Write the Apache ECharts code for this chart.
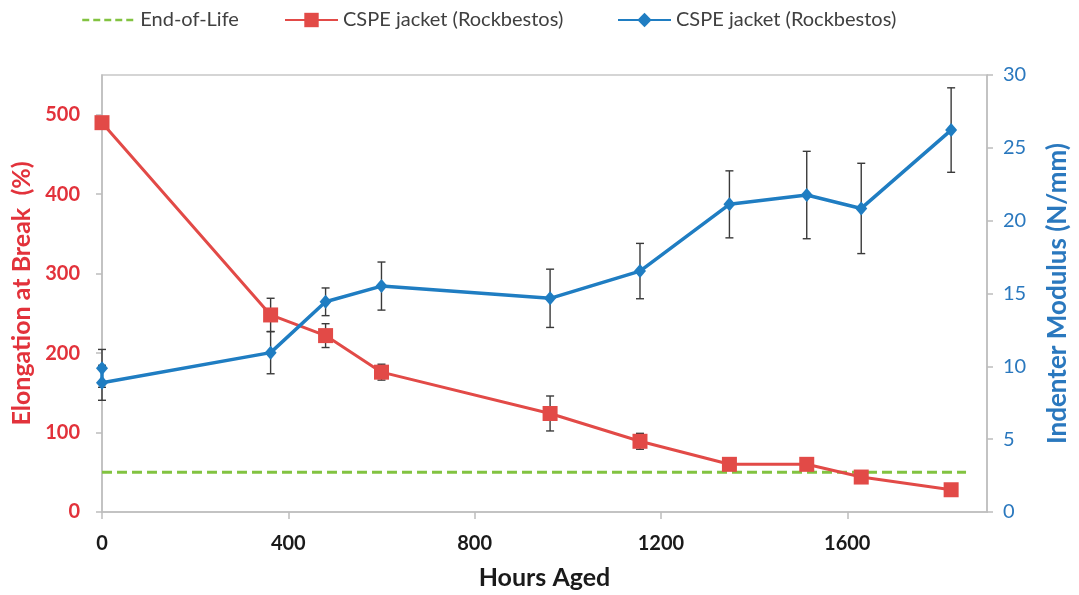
<!DOCTYPE html>
<html>
<head>
<meta charset="utf-8">
<script src="https://cdn.jsdelivr.net/npm/echarts@6/dist/echarts.min.js"></script>
<style>
  html, body { margin: 0; padding: 0; background: #fff; }
  #chart { width: 1079px; height: 595px; }
</style>
</head>
<body>
<div id="chart"></div>
<script>
// Hours of ageing for each measurement
var hoursRed = [0, 362, 480, 600, 962, 1155, 1347, 1513, 1630, 1823];
var elongation = [490, 248, 222, 176, 124, 89, 60, 60, 44, 28];
var elongationErr = [3, 21, 15, 10, 22, 10, 0, 0, 0, 0];

var hoursBlue = [0, 0, 362, 480, 600, 962, 1155, 1347, 1513, 1630, 1823];
var modulus = [9.86, 8.87, 10.94, 14.43, 15.51, 14.67, 16.54, 21.12, 21.76, 20.84, 26.22];
var modulusErr = [1.3, 1.2, 1.45, 0.95, 1.65, 2.0, 1.9, 2.3, 3.0, 3.1, 2.9];

// End-of-life criterion (50 % elongation)
var eolHours = [0, 1855];
var eolValue = [50, 50];

var xTicks = [0, 400, 800, 1200, 1600];
var leftTicks = [0, 100, 200, 300, 400, 500];
var rightTicks = [0, 5, 10, 15, 20, 25, 30];

var nameRed = 'CSPE jacket (Rockbestos)';
var nameBlue = 'CSPE jacket (Rockbestos)\u200B';
var nameEol = 'End-of-Life';

var RED = '#E24A47';
var BLUE = '#1F7DC2';
var GREEN = '#82C341';
var FONT = 'Lato, "Open Sans", sans-serif';

function pairs(xs, ys) { return xs.map(function (x, i) { return [x, ys[i]]; }); }
function errData(xs, ys, es) {
  var out = [];
  xs.forEach(function (x, i) { if (es[i] > 0) out.push([x, ys[i] - es[i], ys[i] + es[i]]); });
  return out;
}
function renderErr(params, api) {
  var lo = api.coord([api.value(0), api.value(1)]);
  var hi = api.coord([api.value(0), api.value(2)]);
  var w = 4;
  var st = { stroke: '#3A3A3A', lineWidth: 1.4 };
  return {
    type: 'group',
    children: [
      { type: 'line', shape: { x1: lo[0], y1: lo[1], x2: hi[0], y2: hi[1] }, style: st },
      { type: 'line', shape: { x1: lo[0] - w, y1: lo[1], x2: lo[0] + w, y2: lo[1] }, style: st },
      { type: 'line', shape: { x1: hi[0] - w, y1: hi[1], x2: hi[0] + w, y2: hi[1] }, style: st }
    ]
  };
}

var legendBase = {
  top: 5, itemWidth: 53, itemHeight: 18,
  textStyle: { fontSize: 20, color: '#404040', fontFamily: FONT }
};
function legendAt(left, item) {
  return Object.assign({}, legendBase, { left: left, data: [item] });
}

var chart = echarts.init(document.getElementById('chart'));
chart.setOption({
  animation: false,
  backgroundColor: '#fff',
  textStyle: { fontFamily: FONT },
  legend: [
    legendAt(76, { name: nameEol, itemStyle: { opacity: 0 },
      lineStyle: { width: 2.5, type: [7, 4] } }),
    legendAt(279, { name: nameRed }),
    legendAt(612, { name: nameBlue })
  ],
  grid: {
    left: 102, right: 92, top: 75, bottom: 83,
    show: true, borderColor: '#C8C8C8', borderWidth: 1.5
  },
  xAxis: {
    type: 'value', min: 0, max: 1900, interval: 400,
    name: 'Hours Aged', nameLocation: 'middle', nameGap: 53,
    nameTextStyle: { fontSize: 25, fontWeight: 'bold', color: '#1A1A1A', fontFamily: FONT },
    axisLine: { show: true, lineStyle: { color: '#BDBDBD', width: 1.5 } },
    axisTick: { show: true, length: 7, lineStyle: { color: '#BDBDBD', width: 1.5 },
      customValues: xTicks },
    axisLabel: { fontSize: 20, fontWeight: 'bold', color: '#1A1A1A', margin: 22,
      customValues: xTicks, formatter: function (v) { return String(v); } },
    splitLine: { show: false }
  },
  yAxis: [{
    type: 'value', min: 0, max: 550, interval: 100, position: 'left',
    name: 'Elongation at Break  (%)', nameLocation: 'middle', nameGap: 64, nameRotate: 90,
    nameTextStyle: { fontSize: 25, fontWeight: 'bold', color: '#E2323B', fontFamily: FONT },
    axisLine: { show: true, lineStyle: { color: '#BDBDBD', width: 1.5 } },
    axisTick: { show: true, length: 6, lineStyle: { color: '#BDBDBD', width: 1.5 },
      customValues: leftTicks },
    axisLabel: { fontSize: 20, fontWeight: 'bold', color: '#E2323B', margin: 22,
      customValues: leftTicks },
    splitLine: { show: false }
  }, {
    type: 'value', min: 0, max: 30, interval: 5, position: 'right',
    name: 'Indenter Modulus (N/mm)', nameLocation: 'middle', nameGap: 58, nameRotate: 90,
    nameTextStyle: { fontSize: 26, fontWeight: 'bold', color: '#2A78BE', fontFamily: FONT },
    axisLine: { show: true, lineStyle: { color: '#BDBDBD', width: 1.5 } },
    axisTick: { show: true, length: 6, lineStyle: { color: '#BDBDBD', width: 1.5 },
      customValues: rightTicks },
    axisLabel: { fontSize: 20, color: '#2A78BE', margin: 16,
      customValues: rightTicks },
    splitLine: { show: false }
  }],
  series: [{
    name: nameEol, type: 'line', yAxisIndex: 0,
    data: pairs(eolHours, eolValue),
    showSymbol: false, symbol: 'none',
    lineStyle: { color: GREEN, width: 3, type: [10, 5] },
    itemStyle: { color: GREEN },
    z: 2
  }, {
    name: 'errRed', type: 'custom', yAxisIndex: 0,
    data: errData(hoursRed, elongation, elongationErr),
    renderItem: renderErr, z: 3, silent: true
  }, {
    name: 'errBlue', type: 'custom', yAxisIndex: 1,
    data: errData(hoursBlue, modulus, modulusErr),
    renderItem: renderErr, z: 3, silent: true
  }, {
    name: nameRed, type: 'line', yAxisIndex: 0,
    data: pairs(hoursRed, elongation),
    symbol: 'rect', symbolSize: 15,
    lineStyle: { color: RED, width: 3 },
    itemStyle: { color: RED },
    z: 4
  }, {
    name: nameBlue, type: 'line', yAxisIndex: 1,
    data: pairs(hoursBlue, modulus),
    symbol: 'diamond', symbolSize: [12, 14],
    lineStyle: { color: BLUE, width: 3.5 },
    itemStyle: { color: BLUE },
    z: 5
  }]
});
</script>
</body>
</html>
